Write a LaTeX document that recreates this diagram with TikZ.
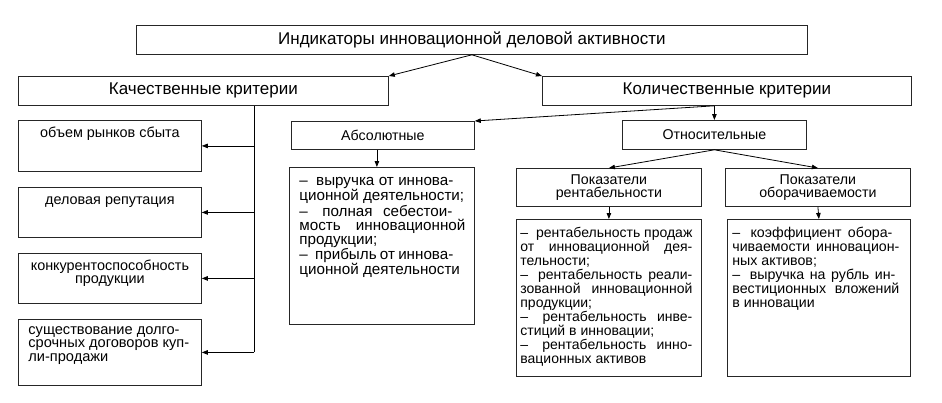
\documentclass[tikz,border=0pt]{standalone}
\usepackage{fontspec}
\setmainfont{Liberation Sans}
\usetikzlibrary{arrows.meta}
\newlength\jw
\newcommand\jl[2][\jw]{\makebox[#1][s]{#2}}
\newcommand\ds{–\hspace{4pt} }
% #1 total width, #2 height, #3 left pad, #4 text width, #5 font size, #6 first baseline, #7 content
\newcommand\lbox[7]{\parbox[c][#2][t]{#1}{\hspace*{#3}\parbox[t]{#4}{\setlength\jw{#4}\raggedright\fontsize{#5}{14}\selectfont\rule{0pt}{#6}#7}}}
\newcommand\cbox[3]{\parbox[c][#2][t]{#1}{\centering\fontsize{14.4}{13}\selectfont\rule{0pt}{17pt}#3}}
\begin{document}
\begin{tikzpicture}[x=1pt,y=-1pt,
  box/.style={draw=black!85, line width=0.8pt, inner sep=0pt, anchor=north west},
  hdr/.style={box, font=\fontsize{17}{19}\selectfont},
  sm/.style={box, font=\fontsize{14.2}{13}\selectfont, align=center},
  arr/.style={-{Triangle[length=6pt,width=4.5pt]}, line width=0.8pt},
  ln/.style={line width=0.8pt}]
\useasboundingbox (0,0) rectangle (942,402);

\node[hdr, minimum width=671pt, minimum height=29pt] (top) at (136,25) {Индикаторы инновационной деловой активности};
\node[hdr, minimum width=370pt, minimum height=29pt] (kach) at (18,76) {Качественные критерии};
\node[hdr, minimum width=369pt, minimum height=29pt] (kol) at (542,76) {Количественные критерии};

\node[box] (L1) at (18,120) {\cbox{183pt}{51pt}{объем рынков сбыта}};
\node[box] (L2) at (18,187) {\cbox{183pt}{50pt}{деловая репутация}};
\node[box] (L3) at (18,253) {\cbox{183pt}{50pt}{конкурентоспособность\\продукции}};
\node[box] (L4) at (18,319) {\parbox[c][66pt][t]{183pt}{\hspace*{10pt}\parbox[t]{170pt}{\raggedright\fontsize{14.6}{13.3}\selectfont\rule{0pt}{15pt}существование долго-\\срочных договоров куп-\\ли-продажи}}};

\node[sm, minimum width=183pt, minimum height=28pt] (abs) at (291,121) {Абсолютные};
\node[box] (abslist) at (289,167) {\lbox{185pt}{157pt}{10pt}{166pt}{15.2}{18pt}{\jl[154pt]{\ds выручка от иннова-}\\ционной деятельности;\\\jl[153pt]{\ds полная себестои-}\\\jl{мость инновационной}\\продукции;\\\jl[154pt]{\ds прибыль от иннова-}\\ционной деятельности}};

\node[sm, minimum width=184pt, minimum height=29pt] (otn) at (622,120) {Относительные};
\node[sm, minimum width=185pt, minimum height=38pt] (rent) at (516,168) {Показатели\\рентабельности};
\node[sm, minimum width=185pt, minimum height=38pt] (obor) at (725,168) {Показатели\\оборачиваемости};

\node[box] (rentlist) at (516,219) {\lbox{185pt}{157pt}{4pt}{172pt}{14}{18pt}{\jl{\ds рентабельность продаж}\\\jl{от инновационной дея-}\\тельности;\\\jl{\ds рентабельность реали-}\\\jl{зованной инновационной}\\продукции;\\\jl{\ds рентабельность инве-}\\стиций в инновации;\\\jl{\ds рентабельность инно-}\\вационных активов}};
\node[box] (oborlist) at (727,219) {\lbox{183pt}{157pt}{5pt}{167pt}{14.2}{18pt}{\jl[160pt]{\ds коэффициент обора-}\\\jl{чиваемости инновацион-}\\ных активов;\\\jl[163pt]{\ds выручка на рубль ин-}\\\jl{вестиционных вложений}\\в инновации}};

\draw[arr] (top.south) -- (kach.north east);
\draw[arr] (top.south) -- (kol.north west);

\coordinate (tr) at ([xshift=51pt]kach.south);
\draw[ln] (tr) -- (tr |- L4.east);
\foreach \n in {L1,L2,L3,L4} \draw[arr] (tr |- \n.east) -- (\n.east);

\coordinate (ks) at (kol.south -| otn.north);
\draw[arr] (ks) -- (otn.north);
\draw[arr] (ks) -- (abs.north east);
\draw[arr] ([xshift=-6pt]abs.south) -- ([xshift=-6pt]abs.south |- abslist.north);
\draw[arr] (otn.south) -- (rent.north);
\draw[arr] (otn.south) -- (obor.north);
\draw[arr] (rent.south) -- (rentlist.north);
\draw[arr] (obor.south) -- (oborlist.north);
\end{tikzpicture}
\end{document}
